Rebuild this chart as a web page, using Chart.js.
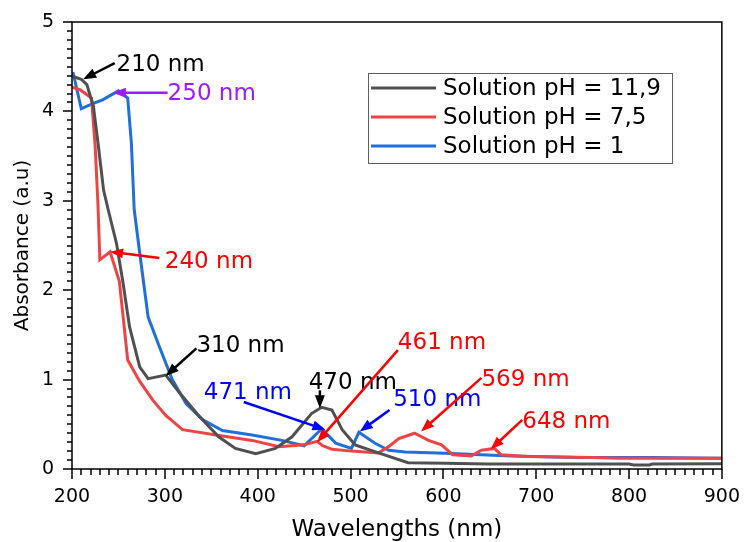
<!DOCTYPE html>
<html>
<head>
<meta charset="utf-8">
<script src="https://cdn.jsdelivr.net/npm/chart.js@4.4.1/dist/chart.umd.min.js"></script>
<style>
  html, body { margin: 0; padding: 0; background: #fff; }
</style>
</head>
<body>
<canvas id="uvChart" width="748" height="542"></canvas>
<script>
// series
const seriesLabels = ['Solution pH = 11,9', 'Solution pH = 7,5', 'Solution pH = 1'];
const seriesColors = ['#505050', '#f04444', '#1f6fdc'];

const wlBasic = [201, 210, 216, 223, 228, 234, 239, 248, 255, 262, 273, 282, 301, 316, 337, 358, 376, 398, 419, 437, 458, 469, 480, 491, 505, 530, 562, 602, 648, 800, 805, 822, 825, 900];
const absBasic = [4.39, 4.36, 4.30, 4.06, 3.65, 3.12, 2.90, 2.52, 2.08, 1.59, 1.14, 1.01, 1.05, 0.85, 0.59, 0.36, 0.23, 0.17, 0.23, 0.36, 0.62, 0.69, 0.66, 0.44, 0.27, 0.18, 0.07, 0.065, 0.055, 0.055, 0.045, 0.045, 0.055, 0.06];

const wlNeutral = [200, 209, 221, 225, 228, 230, 241, 251, 260, 273, 287, 301, 319, 355, 394, 423, 450, 464, 470, 480, 501, 530, 541, 552, 569, 584, 598, 610, 630, 641, 655, 662, 691, 760, 790, 900];
const absNeutral = [4.27, 4.24, 4.15, 3.60, 2.95, 2.34, 2.43, 2.10, 1.22, 0.98, 0.77, 0.60, 0.44, 0.38, 0.32, 0.25, 0.27, 0.31, 0.26, 0.22, 0.20, 0.18, 0.25, 0.34, 0.40, 0.32, 0.27, 0.16, 0.145, 0.21, 0.23, 0.16, 0.14, 0.13, 0.12, 0.12];

const wlAcid = [201, 210, 223, 233, 250, 260, 264, 267, 273, 282, 294, 308, 323, 341, 362, 394, 426, 450, 469, 484, 501, 509, 526, 541, 559, 602, 673, 744, 825, 900];
const absAcid = [4.44, 4.03, 4.09, 4.13, 4.23, 4.15, 3.64, 2.90, 2.41, 1.70, 1.37, 1.00, 0.73, 0.55, 0.43, 0.38, 0.32, 0.26, 0.45, 0.29, 0.23, 0.41, 0.29, 0.21, 0.19, 0.175, 0.145, 0.13, 0.13, 0.12];

const xTicks = [200, 300, 400, 500, 600, 700, 800, 900];
const yTicks = [0, 1, 2, 3, 4, 5];

// peak call-outs: text, colour, label anchor and arrow (tail -> head) in data units
const callouts = [
  { text: '210 nm', color: '#000000', at: [248, 4.52], from: [246, 4.54], to: [212, 4.36] },
  { text: '250 nm', color: '#9a1cff', at: [303, 4.19], from: [303, 4.21], to: [244, 4.21] },
  { text: '240 nm', color: '#ff0000', at: [300, 2.32], from: [294, 2.36], to: [241, 2.43] },
  { text: '310 nm', color: '#000000', at: [334, 1.37], from: [334, 1.35], to: [301, 1.04] },
  { text: '471 nm', color: '#0000ff', at: [342, 0.85], from: [385, 0.75], to: [473, 0.44] },
  { text: '470 nm', color: '#000000', at: [455, 0.96], from: [467, 0.88], to: [467, 0.68] },
  { text: '461 nm', color: '#ff0000', at: [551, 1.41], from: [551, 1.33], to: [464, 0.30] },
  { text: '510 nm', color: '#0000ff', at: [546, 0.77], from: [542, 0.66], to: [510, 0.42] },
  { text: '569 nm', color: '#ff0000', at: [641, 1.00], from: [641, 1.02], to: [576, 0.42] },
  { text: '648 nm', color: '#ff0000', at: [685, 0.53], from: [685, 0.55], to: [651, 0.22] }
];

const FONT = 'DejaVu Sans';

function toPoints(xs, ys) {
  return xs.map((x, i) => ({ x: x, y: ys[i] }));
}

function drawArrow(ctx, x1, y1, x2, y2, color) {
  const ang = Math.atan2(y2 - y1, x2 - x1);
  const len = 13, half = 5;
  ctx.strokeStyle = color;
  ctx.fillStyle = color;
  ctx.lineWidth = 2.5;
  ctx.beginPath();
  ctx.moveTo(x1, y1);
  ctx.lineTo(x2 - Math.cos(ang) * len * 0.8, y2 - Math.sin(ang) * len * 0.8);
  ctx.stroke();
  ctx.beginPath();
  ctx.moveTo(x2, y2);
  ctx.lineTo(x2 - Math.cos(ang) * len - Math.sin(ang) * half, y2 - Math.sin(ang) * len + Math.cos(ang) * half);
  ctx.lineTo(x2 - Math.cos(ang) * len + Math.sin(ang) * half, y2 - Math.sin(ang) * len - Math.cos(ang) * half);
  ctx.closePath();
  ctx.fill();
}

const frameAndNotes = {
  id: 'frameAndNotes',
  afterDraw(chart) {
    const ctx = chart.ctx;
    const xs = chart.scales.x, ys = chart.scales.y;
    const a = chart.chartArea;
    ctx.save();

    // box round the plot
    ctx.strokeStyle = '#000000';
    ctx.lineWidth = 1.5;
    ctx.strokeRect(a.left, a.top, a.right - a.left, a.bottom - a.top);

    // x ticks, major and minor, pointing down
    ctx.lineWidth = 1.5;
    ctx.strokeStyle = '#000000';
    ctx.beginPath();
    for (let i = 0; i <= 70; i++) {
      const px = Math.round(xs.getPixelForValue(200 + i * 10));
      const major = i % 10 === 0;
      ctx.moveTo(px, a.bottom);
      ctx.lineTo(px, a.bottom + (major ? 10 : 6));
    }
    ctx.stroke();

    // y ticks, pointing left
    ctx.beginPath();
    for (let i = 0; i <= 50; i++) {
      const py = Math.round(ys.getPixelForValue(i / 10));
      const major = i % 10 === 0;
      ctx.moveTo(a.left, py);
      ctx.lineTo(a.left - (major ? 9 : 5), py);
    }
    ctx.stroke();

    // call-outs
    ctx.font = '23px "' + FONT + '"';
    ctx.textBaseline = 'middle';
    ctx.textAlign = 'left';
    callouts.forEach(c => {
      drawArrow(ctx,
        xs.getPixelForValue(c.from[0]), ys.getPixelForValue(c.from[1]),
        xs.getPixelForValue(c.to[0]), ys.getPixelForValue(c.to[1]), c.color);
      ctx.fillStyle = c.color;
      ctx.fillText(c.text, xs.getPixelForValue(c.at[0]), ys.getPixelForValue(c.at[1]));
    });

    // legend box
    const bx = 368, by = 73, bw = 304, bh = 90;
    ctx.fillStyle = '#fff';
    ctx.fillRect(bx, by, bw, bh);
    ctx.strokeStyle = '#606060';
    ctx.lineWidth = 1;
    ctx.strokeRect(bx + 0.5, by + 0.5, bw, bh);
    chart.data.datasets.forEach((ds, i) => {
      const ry = by + 15 + i * 29;
      ctx.strokeStyle = ds.borderColor;
      ctx.lineWidth = 3;
      ctx.beginPath();
      ctx.moveTo(bx + 3, ry);
      ctx.lineTo(bx + 68, ry);
      ctx.stroke();
      ctx.fillStyle = '#000';
      ctx.fillText(ds.label, bx + 75, ry + 1);
    });
    ctx.restore();
  }
};

const datasets = [
  toPoints(wlBasic, absBasic),
  toPoints(wlNeutral, absNeutral),
  toPoints(wlAcid, absAcid)
].map((pts, i) => ({
  label: seriesLabels[i],
  data: pts,
  borderColor: seriesColors[i],
  backgroundColor: seriesColors[i],
  borderWidth: 3,
  pointRadius: 0,
  tension: 0,
  fill: false
}));

const ctx = document.getElementById('uvChart').getContext('2d');
new Chart(ctx, {
  type: 'line',
  data: { datasets: datasets },
  options: {
    responsive: false,
    animation: false,
    events: [],
    layout: { padding: { left: 0, right: 22, top: 22, bottom: 0 } },
    plugins: {
      legend: { display: false },
      tooltip: { enabled: false }
    },
    scales: {
      x: {
        type: 'linear',
        min: 200,
        max: 900,
        afterBuildTicks: s => { s.ticks = xTicks.map(v => ({ value: v })); },
        afterFit: s => { s.height = 73; },
        grid: { display: false, tickLength: 9 },
        border: { display: false },
        ticks: { color: '#000', font: { family: FONT, size: 19 }, padding: 8, maxRotation: 0 },
        title: { display: true, text: 'Wavelengths (nm)', color: '#000', font: { family: FONT, size: 23 }, padding: { top: 0, bottom: -2 } }
      },
      y: {
        type: 'linear',
        min: 0,
        max: 5,
        afterBuildTicks: s => { s.ticks = yTicks.map(v => ({ value: v })); },
        afterFit: s => { s.width = 72; },
        grid: { display: false, tickLength: 9 },
        border: { display: false },
        ticks: { color: '#000', font: { family: FONT, size: 19 }, padding: 9 },
        title: { display: true, text: 'Absorbance (a.u)', color: '#000', font: { family: FONT, size: 20 }, padding: { top: 11, bottom: 0 } }
      }
    }
  },
  plugins: [frameAndNotes]
});
</script>
</body>
</html>
